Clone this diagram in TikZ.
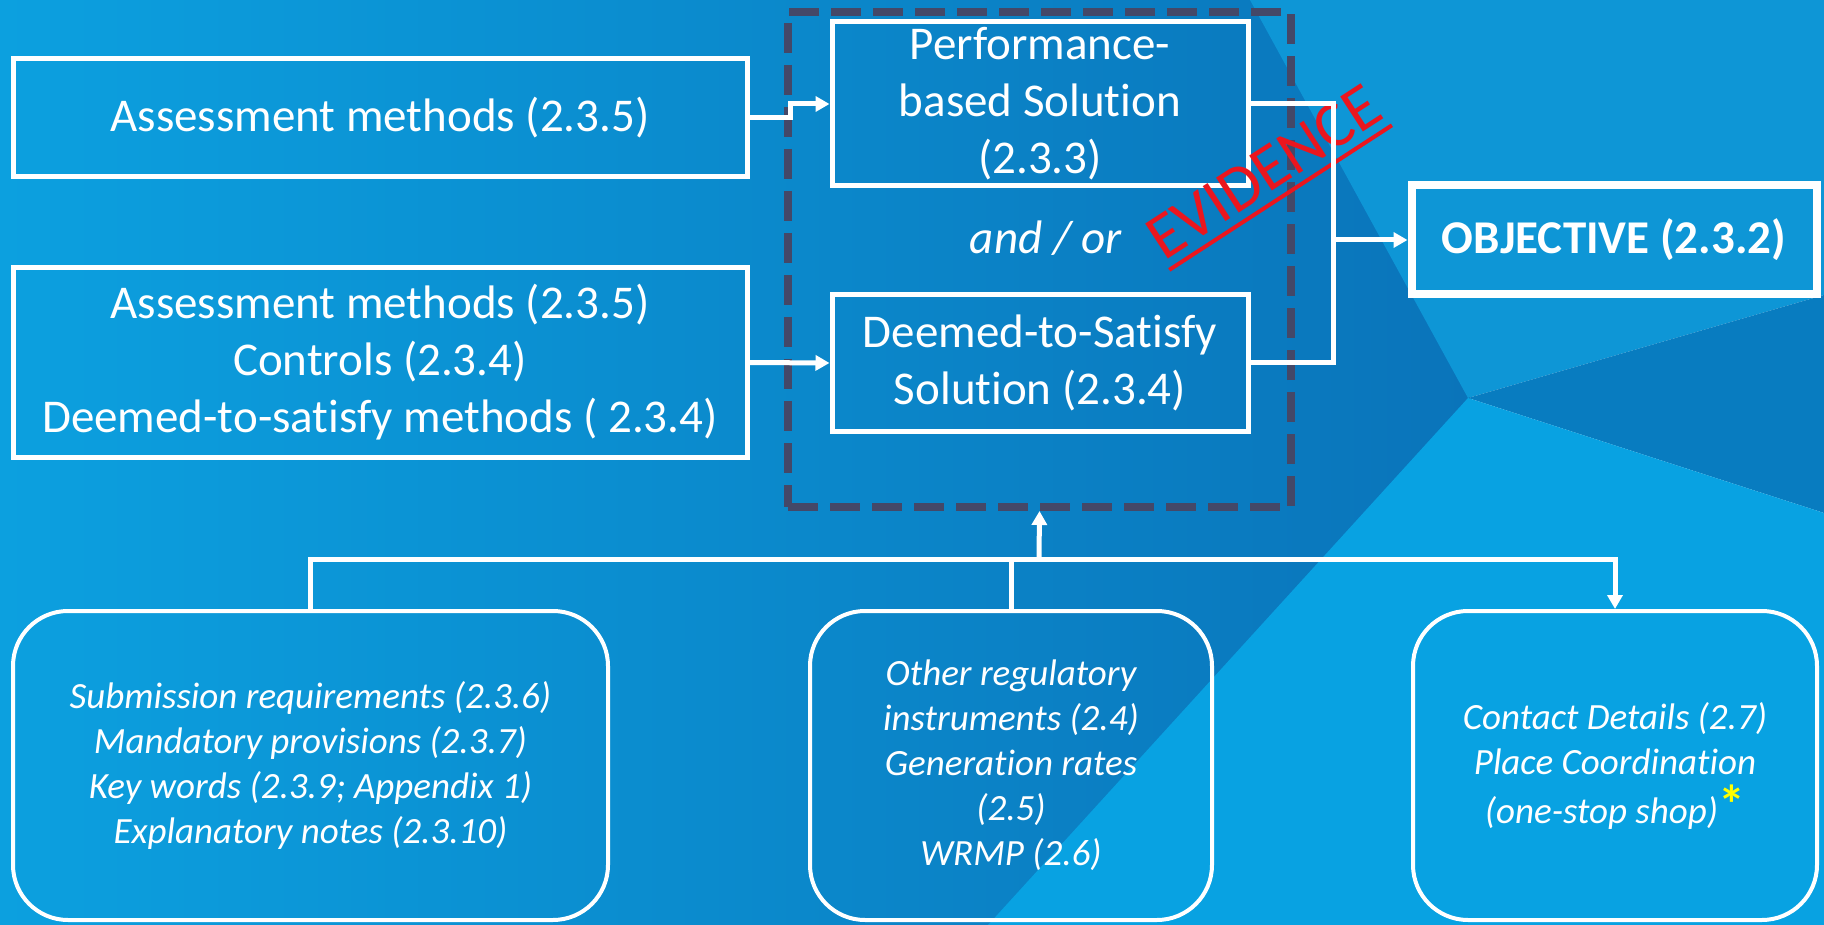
\documentclass[tikz,border=0pt]{standalone}
\usepackage{fontspec}
\setmainfont{Carlito}[Ligatures=NoCommon]
\usetikzlibrary{arrows.meta,positioning}

\definecolor{bgleft}{RGB}{12,160,223}
\definecolor{bgmid}{RGB}{10,116,186}
\definecolor{bgtop}{RGB}{14,150,214}
\definecolor{bgband}{RGB}{8,124,192}
\definecolor{bglow}{RGB}{8,162,226}
\definecolor{dashcol}{RGB}{68,72,104}
\definecolor{stampred}{RGB}{235,22,30}
\definecolor{starcol}{RGB}{255,255,0}

\begin{document}
\begin{tikzpicture}[x=1pt,y=-1pt,
  every node/.style={text=white,font=\fontsize{47}{57}\selectfont},
  srcbox/.style={rectangle,draw=white,line width=5pt,align=center,inner sep=0pt,minimum width=734pt},
  solbox/.style={rectangle,draw=white,line width=5pt,align=center,inner sep=0pt,minimum width=416pt},
  goalbox/.style={rectangle,draw=white,line width=8pt,inner sep=0pt,minimum width=405pt,minimum height=109pt,font=\fontsize{47}{57}\selectfont\bfseries},
  infobox/.style={rectangle,rounded corners=55pt,draw=white,line width=4pt,align=center,inner sep=0pt,minimum height=309pt,font=\fontsize{37}{45}\selectfont\itshape},
  groupbox/.style={rectangle,draw=dashcol,line width=8pt,dash pattern=on 30pt off 12pt,inner sep=0pt},
  stamp/.style={text=stampred,rotate=33,inner xsep=0pt,inner ysep=9pt,font=\fontsize{65}{65}\selectfont},
  line/.style={white,line width=5pt},
  arr/.style={line,-{Triangle[length=14pt,width=15pt]}}]
\useasboundingbox (0,0) rectangle (1824,925);
% background facets
\fill[left color=bgleft,right color=bgmid] (0,0) rectangle (1470,925);
\fill[bgtop] (1250,0) -- (1824,0) -- (1824,295) -- (1468,398) -- cycle;
\fill[bgband] (1468,398) -- (1824,295) -- (1824,513) -- cycle;
\fill[bglow] (1468,398) -- (1824,513) -- (1824,925) -- (988,925) -- cycle;

\node[groupbox,minimum width=503pt,minimum height=495pt] (group) at (1039.5,259.5) {};
\node[srcbox,minimum height=118pt] (assess) at (380,118) {Assessment methods (2.3.5)};
\node[srcbox,minimum height=189pt] (methods) at (380,362.5) {Assessment methods (2.3.5)\\Controls (2.3.4)\\Deemed-to-satisfy methods ( 2.3.4)};
\node[solbox,minimum height=164pt] (perf) at (1040,104) {Performance-\\based Solution\\(2.3.3)};
\node[solbox,minimum height=136pt] (dts) at (1040,363) {Deemed-to-Satisfy\\Solution (2.3.4)};
\node[font=\fontsize{47}{57}\selectfont\itshape] (andor) at (1046,238) {and / or};
\node[stamp] (evid) at (1264,172) {EVIDENCE};
\node[goalbox] (goal) at (1614,240) {OBJECTIVE (2.3.2)};

\node[infobox,minimum width=595pt] (subm) at (310.5,765.5) {Submission requirements (2.3.6)\\Mandatory provisions (2.3.7)\\Key words (2.3.9; Appendix 1)\\Explanatory notes (2.3.10)};
\node[infobox,minimum width=402pt] (other) at (1011,765.5) {Other regulatory\\instruments (2.4)\\Generation rates\\(2.5)\\WRMP (2.6)};
\node[infobox,minimum width=404pt] (contact) at (1615,765.5) {Contact Details (2.7)\\Place Coordination\\[4pt](one-stop shop)\raisebox{0pt}{\textcolor{starcol}{\fontsize{54}{54}\selectfont\upshape\bfseries *}}};
\coordinate (hub) at (1039,559);

% underline of the stamp
\draw[stampred,line width=4pt] (evid.south west) -- (evid.south east);

% connectors
\draw[arr] (assess.east) -- ++(41,0) |- (perf.west);
\draw[arr] (methods.east) -- (dts.west);
\draw[line] (perf.east) -- ++(83,0) |- (dts.east);
\draw[arr] (dts.east) ++(83,0) |- (goal.west);
\draw[arr] (hub) -- (group.south);
\draw[arr] (subm.north) |- (hub) -| (contact.north);
\draw[line] (other.north) -- (other.north |- hub);
\end{tikzpicture}
\end{document}
